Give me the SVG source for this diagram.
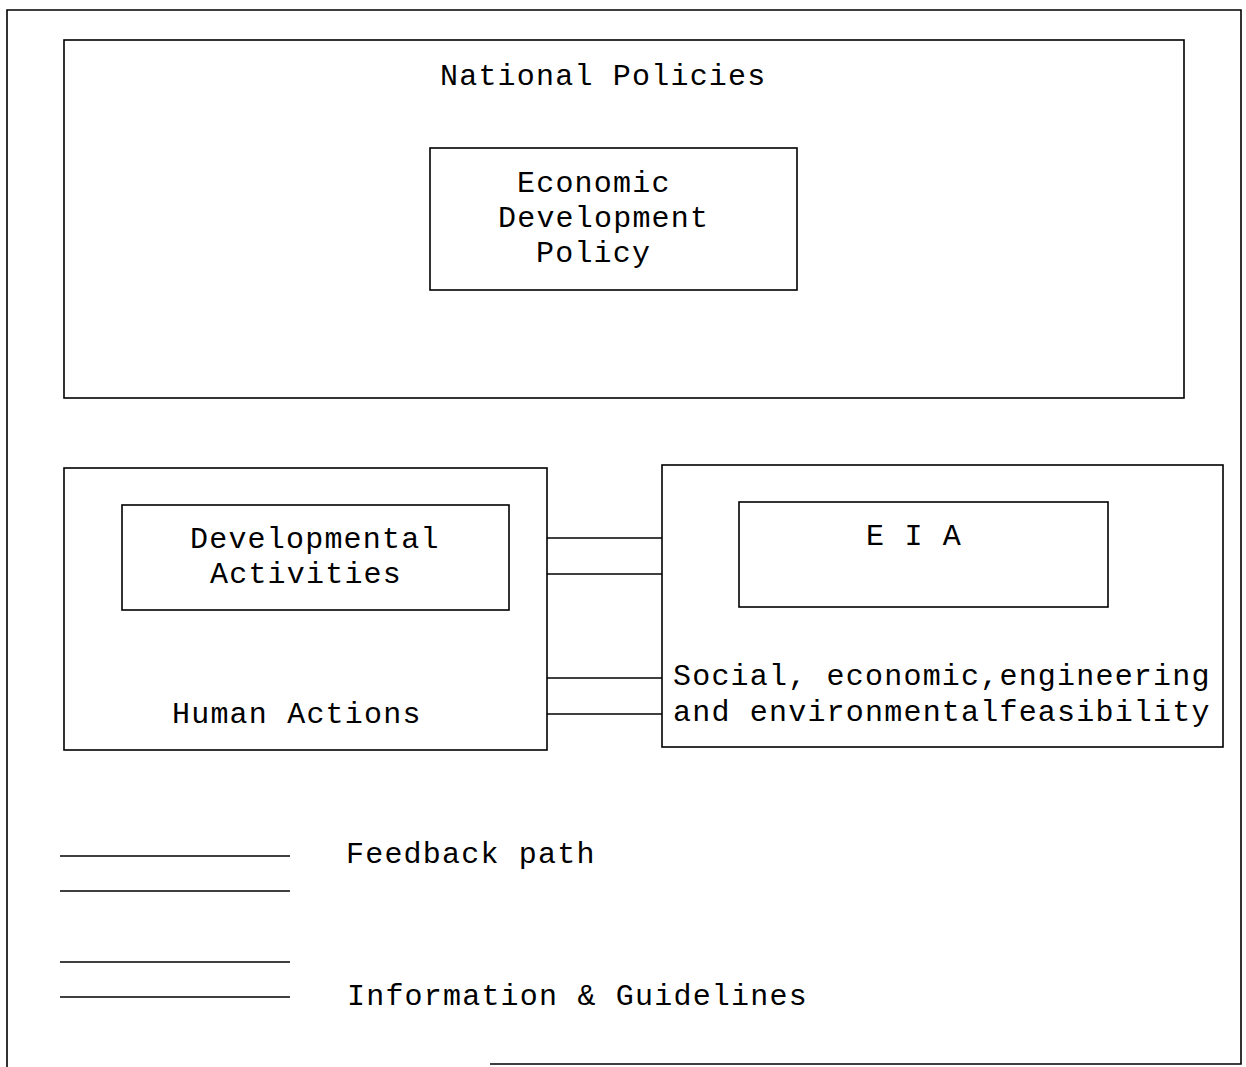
<svg xmlns="http://www.w3.org/2000/svg" width="1246" height="1067" viewBox="0 0 1246 1067">
<style>
  .box { fill: none; stroke: #000; stroke-width: 1.6; }
  .ln { stroke: #000; stroke-width: 1.6; fill: none; }
  .t { font-family: "Liberation Mono", "DejaVu Sans Mono", monospace; font-size: 30px; letter-spacing: 1.2px; fill: #000; }
</style>
<rect width="1246" height="1067" fill="#fff"/>
<g id="frame">
  <path class="ln" d="M7,1067 L7,10 L1241,10 L1241,1064 L490,1064"/>
</g>
<g id="national-policies">
  <rect class="box" x="64" y="40" width="1120" height="358"/>
  <text class="t" x="440" y="85">National Policies</text>
</g>
<g id="economic-development-policy">
  <rect class="box" x="430" y="148" width="367" height="142"/>
  <text class="t" x="517" y="192">Economic</text>
  <text class="t" x="498" y="227">Development</text>
  <text class="t" x="536" y="262">Policy</text>
</g>
<g id="human-actions">
  <rect class="box" x="64" y="468" width="483" height="282"/>
  <text class="t" x="172" y="723">Human Actions</text>
</g>
<g id="developmental-activities">
  <rect class="box" x="122" y="505" width="387" height="105"/>
  <text class="t" x="190" y="548">Developmental</text>
  <text class="t" x="210" y="583">Activities</text>
</g>
<g id="feasibility">
  <rect class="box" x="662" y="465" width="561" height="282"/>
  <text class="t" x="673" y="685">Social, economic,engineering</text>
  <text class="t" x="673" y="721">and environmentalfeasibility</text>
</g>
<g id="eia">
  <rect class="box" x="739" y="502" width="369" height="105"/>
  <text class="t" x="866" y="545">E I A</text>
</g>
<g id="connectors">
  <line class="ln" x1="547" y1="538" x2="662" y2="538"/>
  <line class="ln" x1="547" y1="574" x2="662" y2="574"/>
  <line class="ln" x1="547" y1="678" x2="662" y2="678"/>
  <line class="ln" x1="547" y1="714" x2="662" y2="714"/>
</g>
<g id="legend">
  <line class="ln" x1="60" y1="856" x2="290" y2="856"/>
  <line class="ln" x1="60" y1="891" x2="290" y2="891"/>
  <text class="t" x="346" y="863">Feedback path</text>
  <line class="ln" x1="60" y1="962" x2="290" y2="962"/>
  <line class="ln" x1="60" y1="997" x2="290" y2="997"/>
  <text class="t" x="347" y="1005">Information &amp; Guidelines</text>
</g>
</svg>
